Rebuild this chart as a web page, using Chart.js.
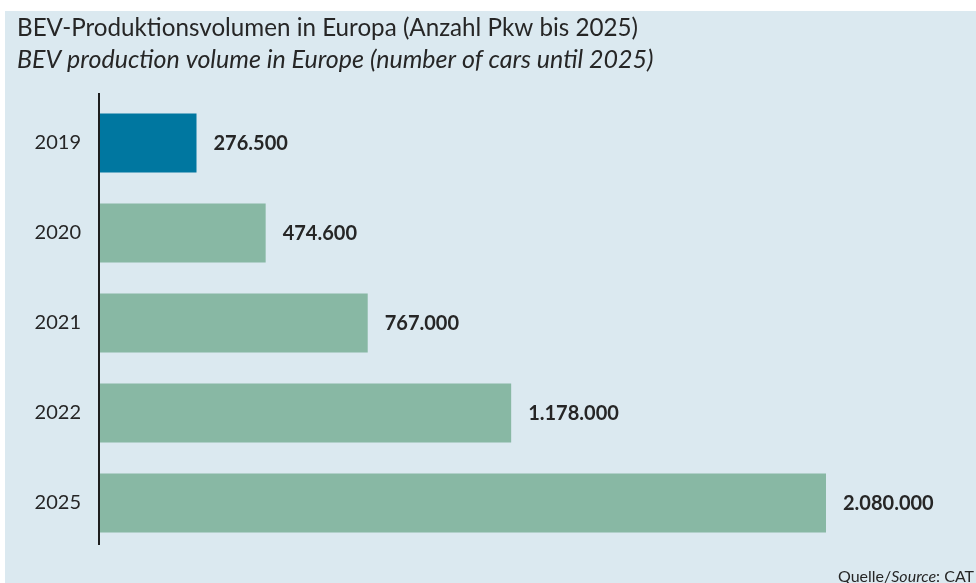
<!DOCTYPE html>
<html>
<head>
<meta charset="utf-8">
<script src="https://cdn.jsdelivr.net/npm/chart.js@4/dist/chart.umd.min.js"></script>
<style>
html,body{margin:0;padding:0;background:#ffffff;}
#wrap{position:relative;width:976px;height:583px;}
</style>
</head>
<body>
<div id="wrap"><canvas id="c" width="976" height="583"></canvas></div>
<script>
const categories = ["2019", "2020", "2021", "2022", "2025"];
const values = [276500, 474600, 767000, 1178000, 2080000];
const titleDe = "BEV-Produktionsvolumen in Europa (Anzahl Pkw bis 2025)";
const titleEn = "BEV production volume in Europe (number of cars until 2025)";
const sourceLabel = "Quelle/";
const sourceItalic = "Source";
const sourceRest = ": CAT";

const BG = "#dbe9f0";
const TXT = "#262626";
const FONT = "Lato, 'Open Sans', sans-serif";

function fmtDe(n){
  return String(n).replace(/\B(?=(\d{3})+(?!\d))/g, ".");
}

function fitFont(ctx, text, style, target){
  ctx.font = style + "20px " + FONT;
  const w = ctx.measureText(text).width;
  return 20 * target / w;
}

const decor = {
  id: "decor",
  beforeDraw(chart){
    const ctx = chart.ctx;
    ctx.save();
    ctx.fillStyle = BG;
    ctx.fillRect(5, 11, chart.width - 5, chart.height - 11);
    ctx.restore();
  },
  afterDatasetsDraw(chart){
    const ctx = chart.ctx;
    const a = chart.chartArea;
    ctx.save();
    // axis line
    ctx.strokeStyle = "#1e1e1e";
    ctx.lineWidth = 2;
    ctx.beginPath();
    ctx.moveTo(a.left - 1, a.top - 5);
    ctx.lineTo(a.left - 1, a.bottom - 3);
    ctx.stroke();
    // value labels
    const meta = chart.getDatasetMeta(0);
    ctx.fillStyle = TXT;
    ctx.font = "bold 20px " + FONT;
    ctx.textBaseline = "middle";
    ctx.textAlign = "left";
    meta.data.forEach((bar, i) => {
      ctx.fillText(fmtDe(values[i]), bar.x + 17, bar.y + 1);
    });
    // titles
    ctx.textBaseline = "alphabetic";
    const s1 = fitFont(ctx, titleDe, "", 621);
    ctx.font = s1.toFixed(2) + "px " + FONT;
    ctx.fillText(titleDe, 17, 36);
    const s2 = fitFont(ctx, titleEn, "italic ", 637);
    ctx.font = "italic " + s2.toFixed(2) + "px " + FONT;
    ctx.fillText(titleEn, 17, 68);
    // source
    ctx.font = "16px " + FONT;
    let x = 838;
    ctx.fillText(sourceLabel, x, 582);
    x += ctx.measureText(sourceLabel).width;
    ctx.font = "italic 16px " + FONT;
    ctx.fillText(sourceItalic, x, 582);
    x += ctx.measureText(sourceItalic).width;
    ctx.font = "16px " + FONT;
    ctx.fillText(sourceRest, x, 582);
    ctx.restore();
  }
};

const xMax = 2080000 * (960 - 100) / (826 - 100);

new Chart(document.getElementById("c"), {
  type: "bar",
  data: {
    labels: categories,
    datasets: [{
      data: values,
      backgroundColor: ["#0077a0", "#88b8a4", "#88b8a4", "#88b8a4", "#88b8a4"],
      borderWidth: 0,
      barPercentage: 0.655,
      categoryPercentage: 1
    }]
  },
  options: {
    indexAxis: "y",
    responsive: false,
    animation: false,
    devicePixelRatio: 1,
    layout: { padding: { left: 0, right: 16, top: 98, bottom: 35 } },
    plugins: { legend: { display: false }, tooltip: { enabled: false } },
    scales: {
      x: { display: false, min: 0, max: xMax },
      y: {
        afterFit(scale){ scale.width = 100; },
        grid: { display: false, drawTicks: false },
        border: { display: false },
        ticks: { color: TXT, padding: 19, font: { family: FONT, size: 20 } }
      }
    }
  },
  plugins: [decor]
});
</script>
</body>
</html>
